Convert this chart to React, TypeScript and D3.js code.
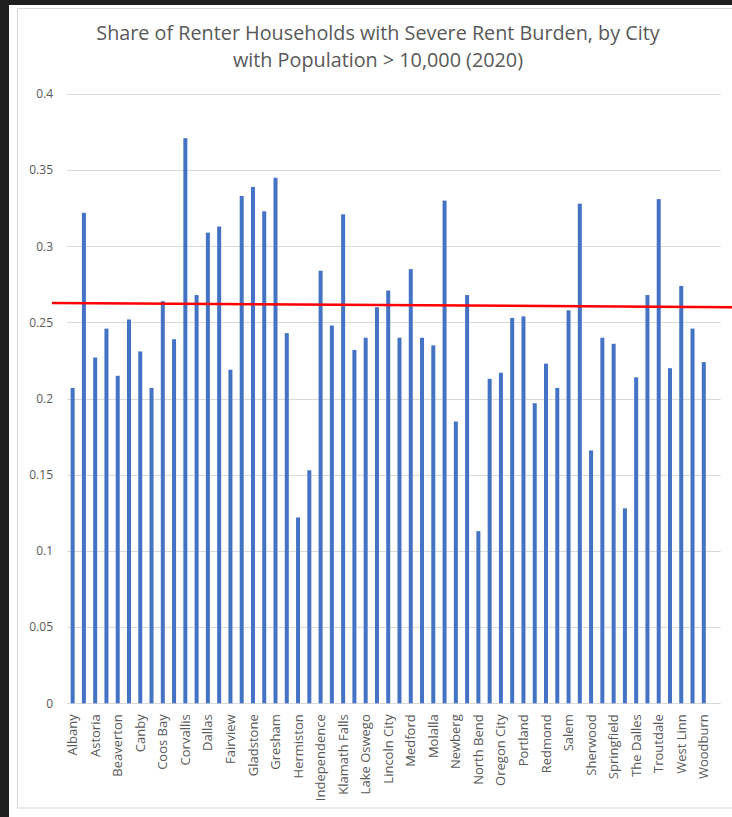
import React from "react";
import * as d3 from "d3";

const titleLines = [
  "Share of Renter Households with Severe Rent Burden, by City",
  "with Population > 10,000 (2020)",
];

const cities = [
  "Albany", "Ashland", "Astoria", "Baker City", "Beaverton", "Bend", "Canby", "Central Point",
  "Coos Bay", "Cornelius", "Corvallis", "Cottage Grove", "Dallas", "Eugene", "Fairview", "Forest Grove",
  "Gladstone", "Grants Pass", "Gresham", "Happy Valley", "Hermiston", "Hillsboro", "Independence", "Keizer",
  "Klamath Falls", "La Grande", "Lake Oswego", "Lebanon", "Lincoln City", "McMinnville", "Medford", "Milwaukie",
  "Molalla", "Monmouth", "Newberg", "Newport", "North Bend", "Ontario", "Oregon City", "Pendleton",
  "Portland", "Prineville", "Redmond", "Roseburg", "Salem", "Sandy", "Sherwood", "Silverton",
  "Springfield", "St. Helens", "The Dalles", "Tigard", "Troutdale", "Tualatin", "West Linn", "Wilsonville",
  "Woodburn", "",
];

const shares: (number | null)[] = [
  0.207, 0.322, 0.227, 0.246, 0.215, 0.252, 0.231, 0.207,
  0.264, 0.239, 0.371, 0.268, 0.309, 0.313, 0.219, 0.333,
  0.339, 0.323, 0.345, 0.243, 0.122, 0.153, 0.284, 0.248,
  0.321, 0.232, 0.240, 0.260, 0.271, 0.240, 0.285, 0.240,
  0.235, 0.330, 0.185, 0.268, 0.113, 0.213, 0.217, 0.253,
  0.254, 0.197, 0.223, 0.207, 0.258, 0.328, 0.166, 0.240,
  0.236, 0.128, 0.214, 0.268, 0.331, 0.220, 0.274, 0.246,
  0.224, null,
];

const yTicks = [0, 0.05, 0.1, 0.15, 0.2, 0.25, 0.3, 0.35, 0.4];
const yTickLabels = ["0", "0.05", "0.1", "0.15", "0.2", "0.25", "0.3", "0.35", "0.4"];

// red reference line drawn over the chart (value at left end, value at right end)
const refLine = [0.2628, 0.2600];

const W = 732;
const H = 817;
const plot = { left: 67, right: 720.7, top: 94, bottom: 703.3 };
const FONT = "'Open Sans', 'Noto Sans', sans-serif";
const TXT = "#595959";
const GRID = "#d9d9d9";

export default function App() {
  const x = d3
    .scaleBand<string>()
    .domain(cities.map((c, i) => i + ""))
    .range([plot.left, plot.right])
    .paddingInner(0.64)
    .paddingOuter(0.32);
  const y = d3.scaleLinear().domain([0, 0.4]).range([plot.bottom, plot.top]);
  const bw = 4;

  const redPath = d3.line<[number, number]>()([
    [plot.left - 15, y(refLine[0])],
    [W, y(refLine[1])],
  ]);

  return (
    <svg
      width={W}
      height={H}
      style={{ position: "absolute", left: 0, top: 0, display: "block" }}
      fontFamily={FONT}
    >
      <rect x={0} y={0} width={W} height={H} fill="#1f1f1f" />
      <rect x={9} y={5} width={W} height={H} fill="#ffffff" />
      <rect x={17.5} y={8.5} width={W} height={808 - 8.5} fill="none" stroke={GRID} strokeWidth={1} />

      {titleLines.map((t, i) => (
        <text
          key={i}
          x={378}
          y={40 + i * 27}
          textAnchor="middle"
          fontSize={19.8}
          fill={TXT}
        >
          {t}
        </text>
      ))}

      {yTicks.map((t, i) => (
        <g key={i}>
          <line
            x1={plot.left}
            x2={plot.right}
            y1={Math.round(y(t)) + 0.5}
            y2={Math.round(y(t)) + 0.5}
            stroke={GRID}
            strokeWidth={1}
          />
          <text
            x={53}
            y={y(t)}
            dy="0.35em"
            textAnchor="end"
            fontSize={12}
            fill={TXT}
          >
            {yTickLabels[i]}
          </text>
        </g>
      ))}

      {shares.map((v, i) =>
        v == null ? null : (
          <rect
            key={i}
            x={(x(i + "") as number) + x.bandwidth() / 2 - bw / 2}
            y={y(v)}
            width={bw}
            height={y(0) - y(v)}
            fill="#4472C4"
          />
        )
      )}

      {cities.map((c, i) =>
        i % 2 === 0 && c ? (
          <text
            key={i}
            transform={`translate(${(x(i + "") as number) + x.bandwidth() / 2},${plot.bottom + 11}) rotate(-90)`}
            dy="0.35em"
            textAnchor="end"
            fontSize={13}
            fill={TXT}
          >
            {c}
          </text>
        ) : null
      )}

      <path d={redPath || ""} stroke="#ff0000" strokeWidth={2.5} fill="none" />
    </svg>
  );
}
